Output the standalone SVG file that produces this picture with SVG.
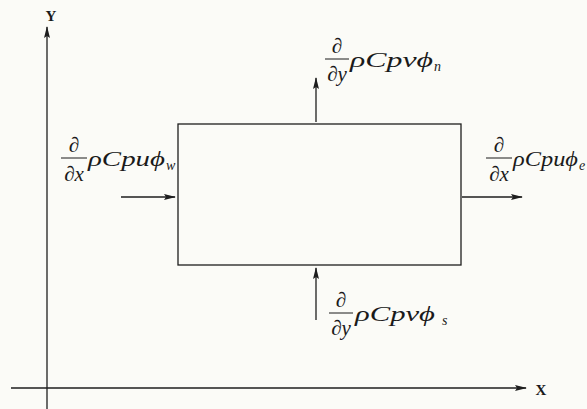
<svg xmlns="http://www.w3.org/2000/svg" width="587" height="409" viewBox="0 0 587 409">
<style>
.ln{stroke:#1e1e1e;stroke-width:1.3;fill:none}
.m{font-family:"Liberation Serif","DejaVu Serif",serif;font-style:italic;font-size:21px;fill:#1a1a1a}
.sub{font-size:14px}
.ax{font-family:"Liberation Serif","DejaVu Serif",serif;font-size:15px;font-weight:bold;fill:#1a1a1a}
.bar{stroke:#1a1a1a;stroke-width:1}
</style>
<defs>
<marker id="ah" markerWidth="12" markerHeight="8" refX="11" refY="4" orient="auto" markerUnits="userSpaceOnUse">
<path d="M0,1 L12,4 L0,7 L2,4 z" fill="#1e1e1e"/>
</marker>
</defs>
<rect width="587" height="409" fill="#fbfbf7"/>
<g id="axes">
<line class="ln" x1="47" y1="409" x2="47" y2="27" marker-end="url(#ah)"/>
<line class="ln" x1="11" y1="388" x2="526" y2="388" marker-end="url(#ah)"/>
<text class="ax" x="51" y="21" text-anchor="middle">Y</text>
<text class="ax" x="541" y="395" text-anchor="middle">X</text>
</g>
<g id="cv">
<rect class="ln" x="178" y="124" width="283" height="141"/>
</g>
<g id="connectors">
<line class="ln" x1="121" y1="197" x2="175" y2="197" marker-end="url(#ah)"/>
<line class="ln" x1="462" y1="197" x2="522" y2="197" marker-end="url(#ah)"/>
<line class="ln" x1="316" y1="122" x2="316" y2="78" marker-end="url(#ah)"/>
<line class="ln" x1="316" y1="320" x2="316" y2="268" marker-end="url(#ah)"/>
</g>
<g id="flux-w">
<text class="m" x="74" y="152" text-anchor="middle">∂</text>
<line class="bar" x1="61" y1="158" x2="87" y2="158"/>
<text class="m" x="74" y="181" text-anchor="middle">∂x</text>
<text class="m" x="88" y="166" textLength="77" lengthAdjust="spacingAndGlyphs">ρCpuϕ</text>
<text class="m sub" x="166" y="170">w</text>
</g>
<g id="flux-e">
<text class="m" x="499" y="152" text-anchor="middle">∂</text>
<line class="bar" x1="486" y1="158" x2="512" y2="158"/>
<text class="m" x="499" y="181" text-anchor="middle">∂x</text>
<text class="m" x="513" y="166" textLength="65" lengthAdjust="spacingAndGlyphs">ρCpuϕ</text>
<text class="m sub" x="579" y="170">e</text>
</g>
<g id="flux-n">
<text class="m" x="337" y="53" text-anchor="middle">∂</text>
<line class="bar" x1="325" y1="59" x2="349" y2="59"/>
<text class="m" x="337" y="81" text-anchor="middle">∂y</text>
<text class="m" x="350" y="67" textLength="83" lengthAdjust="spacingAndGlyphs">ρCpvϕ</text>
<text class="m sub" x="434" y="71">n</text>
</g>
<g id="flux-s">
<text class="m" x="341" y="307" text-anchor="middle">∂</text>
<line class="bar" x1="329" y1="313" x2="353" y2="313"/>
<text class="m" x="341" y="335" text-anchor="middle">∂y</text>
<text class="m" x="355" y="321" textLength="80" lengthAdjust="spacingAndGlyphs">ρCpvϕ</text>
<text class="m sub" x="442" y="325">s</text>
</g>
</svg>
